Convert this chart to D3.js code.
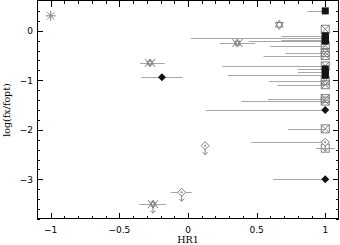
<!DOCTYPE html>
<html><head><meta charset="utf-8">
<script src="https://cdn.jsdelivr.net/npm/d3@7"></script>
<style>body{margin:0;background:#fff}svg{display:block}</style>
</head><body>
<script>
// ---- data ----
const xTickLabels = ["−1", "−0.5", "0", "0.5", "1"];
const xTickValues = [-1, -0.5, 0, 0.5, 1];
const yTickLabels = ["0", "−1", "−2", "−3"];
const yTickValues = [0, -1, -2, -3];

// filled squares
const fsqHR  = [1, 1, 1, 1, 1, 1, 1, 1];
const fsqLog = [0.40, -0.10, -0.14, -0.18, -0.21, -0.77, -0.84, -0.90];
const fsqLo  = [0.87, 0.68, 0.02, 0.68, 0.44, 0.80, 0.80, 0.29];
const fsqHi  = [1, 1, 1, 1, 1, 1, 1, 1];

// crossed squares
const xsqHR  = [1, 1, 1, 1, 1, 1, 1, 1, 1, 1];
const xsqLog = [0.03, -0.30, -0.44, -0.50, -0.71, -1.01, -1.09, -1.37, -1.42, -1.98];
const xsqLo  = [1, 0.60, 0.71, 0.55, 0.25, 0.59, 0.65, 0.58, 0.39, 0.73];
const xsqHi  = [1, 1, 1, 1, 1, 1, 1, 1, 1, 1];

// filled diamonds
const fdHR  = [-0.19, 1, 1];
const fdLog = [-0.94, -1.60, -3.00];
const fdLo  = [-0.34, 0.13, 0.62];
const fdHi  = [-0.04, 1, 1];

// open diamonds (upper limits)
const odHR  = [1, 0.125, -0.046];
const odLog = [-2.25, -2.32, -3.26];
const odLo  = [0.46, 0.125, -0.125];
const odHi  = [1, 0.125, 0.027];

// open square
const osqHR  = [1];
const osqLog = [-2.37];
const osqLo  = [0.93];
const osqHi  = [1.07];

// double-cross markers
const dxHR    = [-0.277, 0.36, -0.255];
const dxLog   = [-0.65, -0.25, -3.50];
const dxLo    = [-0.35, 0.23, -0.355];
const dxHi    = [-0.17, 0.49, -0.16];
const dxLimit = [false, false, true];

// hexagram
const hxHR  = [0.665];
const hxLog = [0.12];

// asterisk
const asHR  = [-1];
const asLog = [0.30];

// ---- chart ----
const W = 340, H = 245;
const m = {l: 37, r: 1, t: 1, b: 26};
const svg = d3.select("body").append("svg").attr("width", W).attr("height", H);
const x = d3.scaleLinear().domain([-1.1, 1.1]).range([m.l, W - m.r]);
const y = d3.scaleLinear().domain([0.6, -3.8]).range([m.t, H - m.b]);
const x0 = x.range()[0], x1 = x.range()[1], y0 = y.range()[0], y1 = y.range()[1];

const zip = (a, b, lo, hi) => a.map((v, i) => ({hr: v, lg: b[i], lo: lo ? lo[i] : v, hi: hi ? hi[i] : v}));
svg.append("defs").append("clipPath").attr("id", "c")
  .append("rect").attr("x", x0).attr("y", y0).attr("width", x1 - x0).attr("height", y1 - y0);
const g = svg.append("g").attr("clip-path", "url(#c)");

// error bars
const allErr = [].concat(
  zip(fsqHR, fsqLog, fsqLo, fsqHi), zip(xsqHR, xsqLog, xsqLo, xsqHi),
  zip(fdHR, fdLog, fdLo, fdHi), zip(odHR, odLog, odLo, odHi),
  zip(osqHR, osqLog, osqLo, osqHi), zip(dxHR, dxLog, dxLo, dxHi));
g.selectAll("line.err").data(allErr.filter(d => d.lo !== d.hi)).join("line")
  .attr("x1", d => x(d.lo)).attr("x2", d => x(d.hi))
  .attr("y1", d => Math.round(y(d.lg)) + 0.5).attr("y2", d => Math.round(y(d.lg)) + 0.5)
  .attr("stroke", "#a8a8a8").attr("stroke-width", 1);

const gray = "#808080";
function arrow(sel) {
  sel.append("line").attr("x1", 0).attr("x2", 0).attr("y1", 3).attr("y2", 9).attr("stroke", gray);
  sel.append("path").attr("d", "M-2.5,6.5 L0,9 L2.5,6.5").attr("fill", "none").attr("stroke", gray);
}

// open square
g.selectAll("g.osq").data(zip(osqHR, osqLog)).join("g")
  .attr("transform", d => `translate(${x(d.hr)},${y(d.lg)})`)
  .each(function () {
    d3.select(this).append("rect").attr("x", -4).attr("y", -4).attr("width", 8).attr("height", 8)
      .attr("fill", "none").attr("stroke", gray);
  });

// crossed squares
g.selectAll("g.xsq").data(zip(xsqHR, xsqLog)).join("g")
  .attr("transform", d => `translate(${x(d.hr)},${y(d.lg)})`)
  .each(function () {
    const s = d3.select(this);
    s.append("rect").attr("x", -4).attr("y", -4).attr("width", 8).attr("height", 8)
      .attr("fill", "none").attr("stroke", gray);
    s.append("path").attr("d", "M-4,-4L4,4M-4,4L4,-4").attr("stroke", gray);
  });

// filled squares
g.selectAll("rect.fsq").data(zip(fsqHR, fsqLog)).join("rect")
  .attr("x", d => x(d.hr) - 3.5).attr("y", d => y(d.lg) - 3.5)
  .attr("width", 7).attr("height", 7).attr("fill", "#151515");

// open diamonds with arrows
g.selectAll("g.od").data(zip(odHR, odLog)).join("g")
  .attr("transform", d => `translate(${x(d.hr)},${y(d.lg)})`)
  .each(function () {
    const s = d3.select(this);
    s.append("path").attr("d", "M0,-4L4,0L0,4L-4,0Z").attr("fill", "white").attr("stroke", gray);
    s.append("circle").attr("r", 1).attr("fill", gray);
    arrow(s);
  });

// filled diamonds
g.selectAll("path.fd").data(zip(fdHR, fdLog)).join("path")
  .attr("transform", d => `translate(${x(d.hr)},${y(d.lg)})`)
  .attr("d", "M0,-4L4,0L0,4L-4,0Z").attr("fill", "#111");

// double-cross markers
g.selectAll("g.dx").data(zip(dxHR, dxLog)).join("g")
  .attr("transform", d => `translate(${x(d.hr)},${y(d.lg)})`)
  .each(function (d, i) {
    const s = d3.select(this);
    s.append("path").attr("d", "M-5,-4L1,4M-5,4L1,-4M-1,-4L5,4M-1,4L5,-4").attr("stroke", gray).attr("fill", "none");
    s.append("rect").attr("x", -2).attr("y", -2).attr("width", 4).attr("height", 4).attr("fill", "none").attr("stroke", gray);
    if (dxLimit[i]) arrow(s);
  });

// hexagram
g.selectAll("g.hx").data(zip(hxHR, hxLog)).join("g")
  .attr("transform", d => `translate(${x(d.hr)},${y(d.lg)})`)
  .each(function () {
    d3.select(this).append("path").attr("d", "M0,-4.5L3.9,2.25L-3.9,2.25Z M0,4.5L3.9,-2.25L-3.9,-2.25Z")
      .attr("fill", "none").attr("stroke", gray);
  });

// asterisk
g.selectAll("g.as").data(zip(asHR, asLog)).join("g")
  .attr("transform", d => `translate(${x(d.hr)},${y(d.lg)})`)
  .each(function () {
    d3.select(this).append("path").attr("d", "M-5,0L5,0M0,-5L0,5M-3.6,-3.6L3.6,3.6M-3.6,3.6L3.6,-3.6").attr("stroke", gray);
  });

// frame
svg.append("rect").attr("x", x0 + 0.5).attr("y", y0 - 0.5).attr("width", x1 - x0 - 1).attr("height", y1 - y0)
  .attr("fill", "none").attr("stroke", "#000");

// ticks (inward, on all sides)
const xt = d3.range(-11, 11).map(v => v / 10).filter(v => v > -1.1 && v < 1.1);
const yt = d3.range(-19, 3).map(v => v / 5);
const isMajX = v => Math.abs(v * 2 - Math.round(v * 2)) < 1e-6;
const isMajY = v => Math.abs(v - Math.round(v)) < 1e-6;
const tk = svg.append("g").attr("stroke", "#000");
xt.forEach(v => {
  const L = isMajX(v) ? 6 : 3, px = Math.round(x(v)) + 0.5;
  tk.append("line").attr("x1", px).attr("x2", px).attr("y1", y1).attr("y2", y1 - L);
  tk.append("line").attr("x1", px).attr("x2", px).attr("y1", y0).attr("y2", y0 + L);
});
yt.forEach(v => {
  const L = isMajY(v) ? 6 : 3, py = Math.round(y(v)) + 0.5;
  tk.append("line").attr("x1", x0).attr("x2", x0 + L).attr("y1", py).attr("y2", py);
  tk.append("line").attr("x1", x1).attr("x2", x1 - L).attr("y1", py).attr("y2", py);
});

// tick labels
svg.selectAll("text.xl").data(xTickValues).join("text")
  .attr("x", d => x(d)).attr("y", y1 + 14).attr("text-anchor", "middle")
  .attr("font-family", "DejaVu Sans, sans-serif").attr("font-size", 9)
  .text((d, i) => xTickLabels[i]);
svg.selectAll("text.yl").data(yTickValues).join("text")
  .attr("x", x0 - 4).attr("y", d => y(d) + 3.5).attr("text-anchor", "end")
  .attr("font-family", "DejaVu Sans, sans-serif").attr("font-size", 9)
  .text((d, i) => yTickLabels[i]);

// axis titles
svg.append("text").attr("x", (x0 + x1) / 2).attr("y", H - 2).attr("text-anchor", "middle")
  .attr("font-family", "DejaVu Serif, serif").attr("font-size", 9.5).text("HR1");
svg.append("text").attr("transform", `translate(10,${(y0 + y1) / 2}) rotate(-90)`)
  .attr("text-anchor", "middle").attr("font-family", "DejaVu Serif, serif").attr("font-size", 9.5)
  .text("log(fx/fopt)");
</script>
</body></html>
